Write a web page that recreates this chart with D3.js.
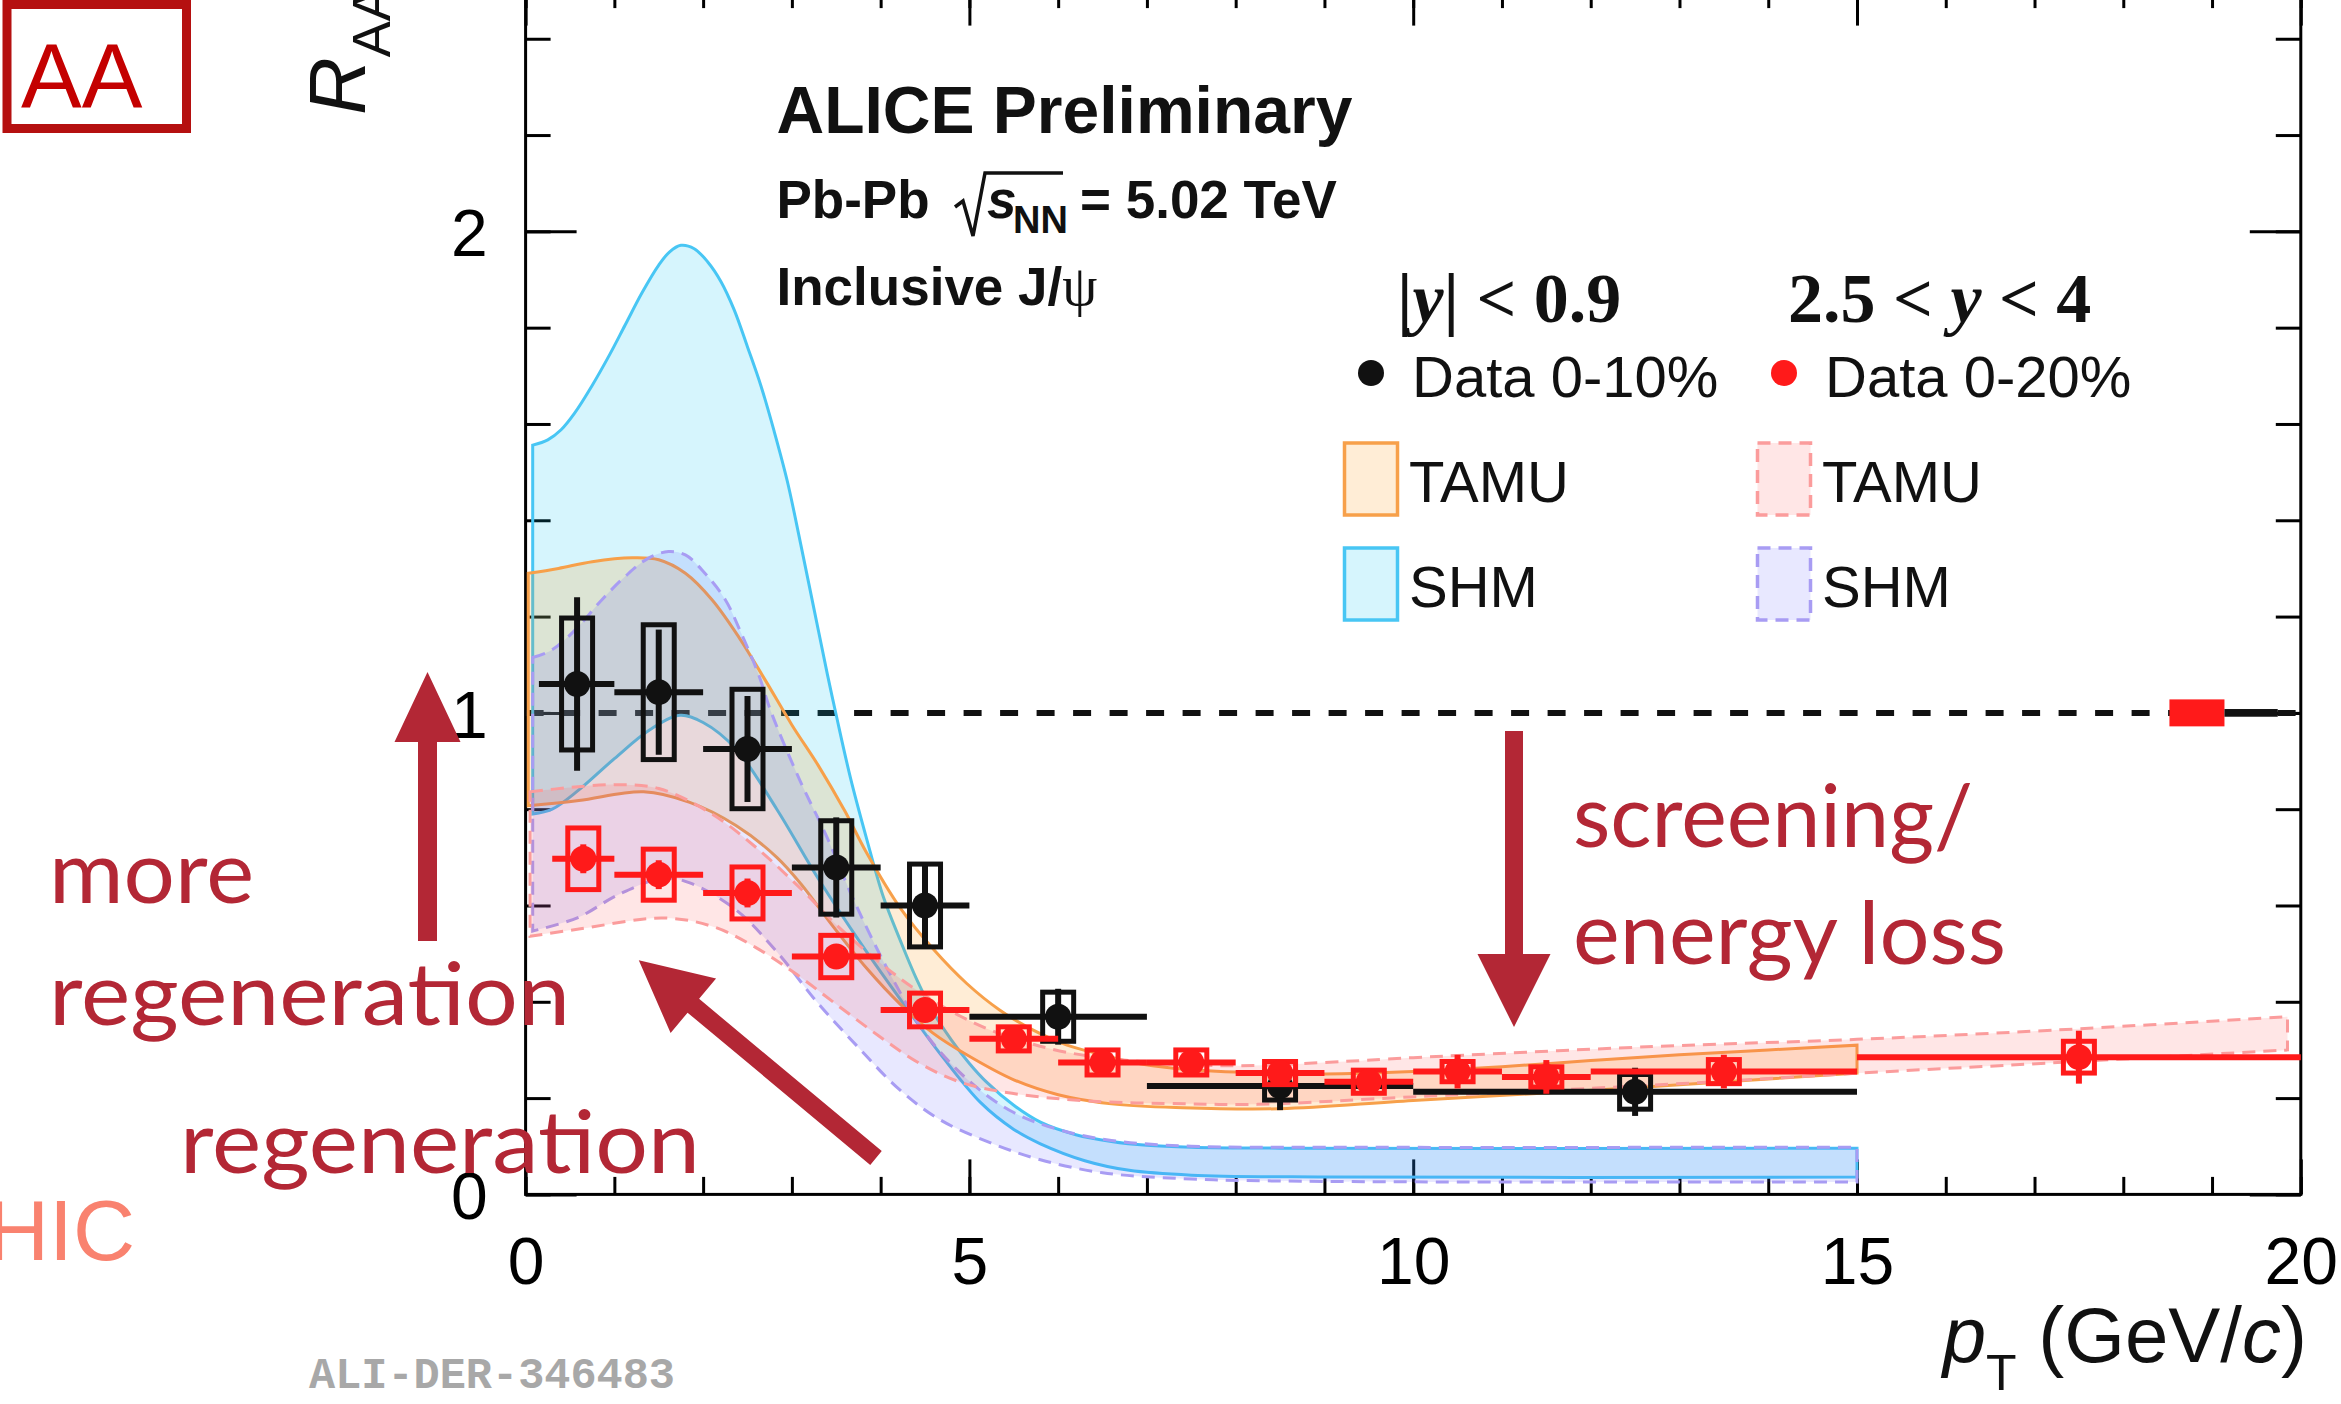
<!DOCTYPE html>
<html>
<head>
<meta charset="utf-8">
<script src="https://cdn.jsdelivr.net/npm/d3@7"></script>
<style>
  html, body { margin: 0; padding: 0; background: #fff; }
  svg { display: block; }
</style>
</head>
<body>
<svg id="chart" width="2341" height="1404"></svg>
<script>
// ---- axis ticks
const xMajor = [0, 5, 10, 15, 20]
const xMinor = d3.range(0, 21)
const yMajor = [0, 1, 2]
const yMinor = d3.range(0, 13).map(i => i * 0.2)

// ---- data |y| < 0.9, 0-10%
const midPt = [0.58, 1.5, 2.5, 3.5, 4.5, 6.0, 8.5, 12.5]
const midLo = [0.15, 1, 2, 3, 4, 5, 7, 10]
const midHi = [1, 2, 3, 4, 5, 7, 10, 15]
const midVal = [1.06, 1.043, 0.925, 0.679, 0.60, 0.369, 0.225, 0.213]
const midStat = [0.18, 0.13, 0.11, 0.104, 0.09, 0.058, 0.05, 0.05]
const midSyst = [0.137, 0.14, 0.124, 0.097, 0.086, 0.051, 0.029, 0.036]

// ---- data 2.5 < y < 4, 0-20%
const fwdPt = [0.65, 1.5, 2.5, 3.5, 4.5, 5.5, 6.5, 7.5, 8.5, 9.5, 10.5, 11.5, 13.5, 17.5]
const fwdLo = [0.3, 1, 2, 3, 4, 5, 6, 7, 8, 9, 10, 11, 12, 15]
const fwdHi = [1, 2, 3, 4, 5, 6, 7, 8, 9, 10, 11, 12, 15, 20]
const fwdVal = [0.697, 0.664, 0.626, 0.494, 0.383, 0.323, 0.274, 0.274, 0.252, 0.234, 0.255, 0.244, 0.255, 0.285]
const fwdStat = [0.03, 0.03, 0.03, 0.025, 0.02, 0.02, 0.03, 0.03, 0.028, 0.025, 0.035, 0.035, 0.035, 0.055]
const fwdSyst = [0.064, 0.053, 0.054, 0.044, 0.035, 0.025, 0.026, 0.026, 0.024, 0.024, 0.021, 0.021, 0.025, 0.033]

// ---- global (normalisation) uncertainties drawn at R_AA = 1
const globLo = [18.52, 19.14]
const globHi = [19.14, 19.74]
const globErr = [0.028, 0.008]

// ---- models [pT, R_AA]
const shmMidUp = [[0.08,1.556],[0.25,1.567],[0.4,1.588],[0.55,1.622],[0.75,1.68],[0.95,1.745],[1.12,1.805],
  [1.31,1.872],[1.5,1.93],[1.62,1.957],[1.75,1.971],[1.9,1.964],[2.05,1.937],[2.2,1.896],[2.35,1.837],[2.5,1.76],
  [2.65,1.68],[2.8,1.585],[2.95,1.48],[3.1,1.35],[3.25,1.215],[3.4,1.08],[3.5,0.995],[3.66,0.865],[3.84,0.74],
  [4.03,0.618],[4.22,0.528],[4.41,0.445],[4.6,0.376],[4.8,0.32],[5.0,0.272],[5.2,0.232],[5.5,0.185],[5.8,0.15],
  [6.2,0.124],[6.6,0.11],[7.0,0.102],[7.5,0.098],[8.5,0.096],[15,0.096]]
const shmMidLo = [[0.08,0.79],[0.3,0.80],[0.6,0.84],[1.0,0.905],[1.4,0.965],[1.74,0.995],[2.0,0.98],[2.37,0.925],
  [2.83,0.80],[3.3,0.655],[3.8,0.515],[4.3,0.385],[4.7,0.285],[5.13,0.19],[5.5,0.135],[5.8,0.105],[6.3,0.07],
  [6.8,0.05],[7.5,0.04],[9,0.036],[15,0.036]]
const tamuMidUp = [[0.03,1.29],[0.37,1.30],[0.75,1.314],[1.2,1.322],[1.5,1.318],[1.8,1.29],[2.1,1.235],[2.4,1.158],
  [2.7,1.068],[3.0,0.975],[3.3,0.89],[3.6,0.795],[3.84,0.71],[4.22,0.595],[4.6,0.508],[4.97,0.438],[5.34,0.383],
  [5.72,0.341],[6.1,0.31],[6.5,0.29],[6.85,0.274],[7.3,0.262],[8,0.254],[9,0.25],[10,0.255],[11,0.265],[12,0.278],
  [13,0.29],[14,0.3],[15,0.31]]
const tamuMidLo = [[0.03,0.807],[0.6,0.818],[1.33,0.836],[1.85,0.814],[2.37,0.766],[2.83,0.70],[3.1,0.645],[3.47,0.555],
  [3.84,0.47],[4.22,0.395],[4.59,0.335],[4.97,0.29],[5.5,0.238],[6.0,0.207],[6.6,0.188],[7.4,0.18],[8.5,0.178],
  [10,0.195],[12.7,0.224],[15,0.252]]
const tamuFwdUp = [[0.05,0.836],[0.5,0.845],[1.0,0.851],[1.5,0.843],[2.1,0.79],[2.6,0.72],[3.1,0.635],[3.5,0.56],
  [4.0,0.48],[4.4,0.425],[4.9,0.37],[5.4,0.33],[6.1,0.295],[7,0.275],[8,0.267],[9,0.274],[10,0.284],[12.7,0.307],
  [15,0.322],[17.2,0.341],[19.85,0.369]]
const tamuFwdLo = [[0.05,0.536],[0.6,0.551],[1.56,0.574],[2.13,0.555],[2.6,0.512],[3.06,0.456],[3.52,0.392],[3.98,0.329],
  [4.43,0.273],[4.9,0.233],[5.48,0.21],[6.34,0.194],[7.48,0.188],[8.25,0.187],[10.04,0.203],[12.71,0.227],
  [15.04,0.252],[17.18,0.273],[19.85,0.30]]
const shmFwdUp = [[0.08,1.115],[0.29,1.13],[0.557,1.172],[0.86,1.235],[1.12,1.283],[1.38,1.321],[1.61,1.335],[1.8,1.328],
  [2.02,1.29],[2.25,1.235],[2.43,1.165],[2.62,1.082],[2.77,1.0],[3.09,0.86],[3.4,0.74],[3.7,0.61],[4.1,0.46],
  [4.5,0.335],[5.0,0.235],[5.5,0.17],[6.0,0.135],[6.6,0.112],[7.5,0.1],[9,0.098],[15,0.098]]
const shmFwdLo = [[0.08,0.547],[0.59,0.575],[1.05,0.623],[1.56,0.657],[1.85,0.647],[2.37,0.591],[2.83,0.504],[3.28,0.40],
  [3.75,0.305],[4.21,0.218],[4.67,0.155],[5.24,0.107],[5.8,0.072],[6.5,0.045],[7.5,0.032],[9,0.027],[15,0.026]]

const sans = "'Liberation Sans', Arial, Helvetica, sans-serif"
const serif = "'Liberation Serif', 'Times New Roman', serif"
const annoColor = '#b32735'

const svg = d3.select('#chart')
svg.append('rect').attr('width', 2341).attr('height', 1404).attr('fill', '#fff')

const x = d3.scaleLinear().domain([0, 20]).range([525.6, 2300.8])
const y = d3.scaleLinear().domain([0, 2.5]).range([1194.4, -9.4])
const [x0, x1] = x.range()
const [yb, yt] = y.range()

// ---- frame and ticks
const frame = svg.append('g')

function addAxis (axis, tx, ty) {
  const g = frame.append('g').attr('transform', `translate(${tx},${ty})`).call(axis)
  g.select('.domain').remove()
  g.selectAll('.tick line').attr('stroke', '#000').attr('stroke-width', 3)
  return g
}

addAxis(d3.axisBottom(x).tickValues(xMinor).tickSize(-17.5).tickFormat(''), 0, yb)
addAxis(d3.axisTop(x).tickValues(xMinor).tickSize(-17.5).tickFormat(''), 0, yt)
addAxis(d3.axisTop(x).tickValues(xMajor).tickSize(-35).tickFormat(''), 0, yt)
const bottom = addAxis(d3.axisBottom(x).tickValues(xMajor).tickSize(-35).tickFormat(d3.format('d')), 0, yb)
bottom.selectAll('.tick text')
  .attr('y', 90).attr('dy', null)
  .style('font-family', sans).style('font-size', '66px').attr('fill', '#000')

addAxis(d3.axisLeft(y).tickValues(yMinor).tickSize(-25).tickFormat(''), x0, 0)
addAxis(d3.axisRight(y).tickValues(yMinor).tickSize(-25).tickFormat(''), x1, 0)
addAxis(d3.axisRight(y).tickValues(yMajor).tickSize(-51).tickFormat(''), x1, 0)
const left = addAxis(d3.axisLeft(y).tickValues(yMajor).tickSize(-51).tickPadding(38).tickFormat(d3.format('d')), x0, 0)
left.selectAll('.tick text')
  .attr('dy', '0.37em')
  .style('font-family', sans).style('font-size', '66px').attr('fill', '#000')

frame.append('rect')
  .attr('x', x0).attr('y', yt).attr('width', x1 - x0).attr('height', yb - yt)
  .attr('fill', 'none').attr('stroke', '#000').attr('stroke-width', 3)

// ---- unity line
svg.append('line')
  .attr('x1', x(0)).attr('x2', x(20)).attr('y1', y(1)).attr('y2', y(1))
  .attr('stroke', '#111').attr('stroke-width', 6).attr('stroke-dasharray', '18,18.5')

// ---- model bands
const models = [
  { up: shmMidUp, lo: shmMidLo, fill: 'rgba(0,190,240,0.16)', stroke: '#48c6f4', dash: null },
  { up: tamuMidUp, lo: tamuMidLo, fill: 'rgba(255,140,0,0.16)', stroke: '#f7a04a', dash: null },
  { up: shmFwdUp, lo: shmFwdLo, fill: 'rgba(80,80,255,0.13)', stroke: '#a89cf3', dash: '13,8' },
  { up: tamuFwdUp, lo: tamuFwdLo, fill: 'rgba(255,80,80,0.14)', stroke: '#fb9c9c', dash: '13,8' }
]

const lineGen = d3.line().x(d => x(d[0])).y(d => y(d[1])).curve(d3.curveCatmullRom.alpha(0.5))
const bandPath = m => lineGen(m.up) + 'L' + lineGen(m.lo.slice().reverse()).slice(1) + 'Z'

svg.append('g').selectAll('path')
  .data(models)
  .enter().append('path')
    .attr('d', bandPath)
    .attr('fill', d => d.fill)
    .attr('stroke', d => d.stroke)
    .attr('stroke-width', 3)
    .attr('stroke-dasharray', d => d.dash)

// ---- global uncertainty boxes
const globColor = ['#ff1a1a', '#111']
svg.append('g').selectAll('rect')
  .data(globLo.map((lo, i) => ({ lo, hi: globHi[i], err: globErr[i], color: globColor[i] })))
  .enter().append('rect')
    .attr('x', d => x(d.lo)).attr('width', d => x(d.hi) - x(d.lo))
    .attr('y', d => y(1 + d.err)).attr('height', d => y(1 - d.err) - y(1 + d.err))
    .attr('fill', d => d.color)

// ---- data points
function series (pt, lo, hi, val, stat, syst) {
  return pt.map((p, i) => ({ pt: p, lo: lo[i], hi: hi[i], val: val[i], stat: stat[i], syst: syst[i] }))
}

function drawPoints (points, color) {
  const g = svg.append('g')
  const pts = g.selectAll('g').data(points).enter().append('g')
  pts.append('line')
    .attr('x1', d => x(d.lo)).attr('x2', d => x(d.hi))
    .attr('y1', d => y(d.val)).attr('y2', d => y(d.val))
    .attr('stroke', color).attr('stroke-width', 6)
  pts.append('line')
    .attr('x1', d => x(d.pt)).attr('x2', d => x(d.pt))
    .attr('y1', d => y(d.val + d.stat)).attr('y2', d => y(d.val - d.stat))
    .attr('stroke', color).attr('stroke-width', 6)
  pts.append('rect')
    .attr('x', d => x(d.pt) - 15.5).attr('width', 31)
    .attr('y', d => y(d.val + d.syst)).attr('height', d => y(d.val - d.syst) - y(d.val + d.syst))
    .attr('fill', 'none').attr('stroke', color).attr('stroke-width', 5)
  pts.append('circle')
    .attr('cx', d => x(d.pt)).attr('cy', d => y(d.val)).attr('r', 13)
    .attr('fill', color)
}

drawPoints(series(midPt, midLo, midHi, midVal, midStat, midSyst), '#111')
drawPoints(series(fwdPt, fwdLo, fwdHi, fwdVal, fwdStat, fwdSyst), '#ff1a1a')

// ---- texts inside the frame
const txt = svg.append('g').style('font-family', sans).attr('fill', '#111')
txt.append('text').attr('x', 776.5).attr('y', 133)
  .style('font-size', '66px').style('font-weight', 'bold').text('ALICE Preliminary')

const pb = txt.append('text').attr('y', 218).style('font-size', '53px').style('font-weight', 'bold')
pb.append('tspan').attr('x', 776.5).text('Pb-Pb')
pb.append('tspan').attr('x', 987).style('font-style', 'italic').text('s')
pb.append('tspan').attr('x', 1013).attr('y', 233).style('font-size', '38px').text('NN')
pb.append('tspan').attr('x', 1080).attr('y', 218).text('= 5.02 TeV')
txt.append('path')
  .attr('d', 'M955,207 L963,201 L973,236 L985,173 L1063,173')
  .attr('fill', 'none').attr('stroke', '#111').attr('stroke-width', 3.5)

const inc = txt.append('text').attr('x', 776.5).attr('y', 305).style('font-size', '53px').style('font-weight', 'bold')
inc.append('tspan').text('Inclusive J/')
inc.append('tspan').style('font-family', serif).style('font-weight', 'normal').style('font-size', '56px').text('ψ')

// ---- legend
const leg = svg.append('g').style('font-family', sans).attr('fill', '#111')
const head = leg.append('g').style('font-family', serif).style('font-weight', 'bold')
  .style('font-size', '70px').style('white-space', 'pre')
const h1 = head.append('text').attr('x', 1397).attr('y', 322)
h1.append('tspan').text('|')
h1.append('tspan').style('font-style', 'italic').text('y')
h1.append('tspan').text('| < 0.9')
const h2 = head.append('text').attr('x', 1788).attr('y', 322)
h2.append('tspan').text('2.5 <  ')
h2.append('tspan').style('font-style', 'italic').text('y')
h2.append('tspan').text(' < 4')

const legCols = [1343, 1756]
const legData = ['Data 0-10%', 'Data 0-20%']
const legDot = ['#111', '#ff1a1a']
legCols.forEach((cx, i) => {
  leg.append('circle').attr('cx', cx + 28).attr('cy', 373).attr('r', 13).attr('fill', legDot[i])
  leg.append('text').attr('x', cx + 69).attr('y', 397).style('font-size', '58px').text(legData[i])
})
const legBands = [
  { m: models[1], col: 0, row: 0, label: 'TAMU' },
  { m: models[3], col: 1, row: 0, label: 'TAMU' },
  { m: models[0], col: 0, row: 1, label: 'SHM' },
  { m: models[2], col: 1, row: 1, label: 'SHM' }
]
legBands.forEach(d => {
  const bx = legCols[d.col]
  const by = 443 + d.row * 105
  leg.append('rect').attr('x', bx + 1.5).attr('y', by).attr('width', 53).attr('height', 72)
    .attr('fill', d.m.fill).attr('stroke', d.m.stroke).attr('stroke-width', 3.5)
    .attr('stroke-dasharray', d.m.dash)
  leg.append('text').attr('x', bx + 66).attr('y', by + 59).style('font-size', '58px').text(d.label)
})

// ---- axis titles
const ytitle = svg.append('text').attr('transform', 'translate(365,115) rotate(-90)')
  .style('font-family', sans).attr('fill', '#111')
ytitle.append('tspan').style('font-size', '80px').style('font-style', 'italic').text('R')
ytitle.append('tspan').attr('dy', 25).style('font-size', '54px').text('AA')

const xtitle = svg.append('text').attr('x', 2307).attr('y', 1362).attr('text-anchor', 'end')
  .style('font-family', sans).style('font-size', '78px').attr('fill', '#111')
xtitle.append('tspan').style('font-style', 'italic').text('p')
xtitle.append('tspan').attr('dy', 28).style('font-size', '50px').text('T')
xtitle.append('tspan').attr('dy', -28).text(' (GeV/')
xtitle.append('tspan').style('font-style', 'italic').text('c')
xtitle.append('tspan').text(')')

svg.append('text').attr('x', 309).attr('y', 1388)
  .attr('textLength', 366).attr('lengthAdjust', 'spacingAndGlyphs')
  .style('font-family', "'Liberation Mono', 'DejaVu Sans Mono', monospace")
  .style('font-size', '44px').style('font-weight', 'bold').attr('fill', '#a8a8a8')
  .text('ALI-DER-346483')

// ---- annotations
function arrow (tail, tip, shaftW, headW, headL) {
  const dx = tip[0] - tail[0], dy = tip[1] - tail[1]
  const len = Math.hypot(dx, dy)
  const ux = dx / len, uy = dy / len
  const nx = -uy, ny = ux
  const bx = tip[0] - ux * headL, by = tip[1] - uy * headL
  const p = (px, py, s) => [px + nx * s, py + ny * s]
  return [tip, p(bx, by, headW / 2), p(bx, by, shaftW / 2), p(tail[0], tail[1], shaftW / 2),
    p(tail[0], tail[1], -shaftW / 2), p(bx, by, -shaftW / 2), p(bx, by, -headW / 2)]
}
const anno = svg.append('g').attr('fill', annoColor)
anno.selectAll('polygon')
  .data([
    arrow([427.5, 941], [427.5, 672], 19, 66, 70),
    arrow([1514, 731], [1514, 1027], 18, 73, 73),
    arrow([876, 1158], [638.8, 960.3], 18, 71, 71)
  ])
  .enter().append('polygon')
    .attr('points', d => d.map(p => p.join(',')).join(' '))

const annoText = [
  { t: 'more', x: 49, y: 903, w: 205 },
  { t: 'regeneration', x: 49, y: 1025, w: 521 },
  { t: 'regeneration', x: 180, y: 1173, w: 520 },
  { t: 'screening/', x: 1573, y: 847, w: 400 },
  { t: 'energy loss', x: 1573, y: 964, w: 433 }
]
anno.selectAll('text')
  .data(annoText)
  .enter().append('text')
    .attr('x', d => d.x).attr('y', d => d.y)
    .attr('textLength', d => d.w).attr('lengthAdjust', 'spacingAndGlyphs')
    .style('font-family', "Lato, 'Open Sans', sans-serif").style('font-size', '88px')
    .text(d => d.t)

svg.append('text').attr('x', -13).attr('y', 1260)
  .style('font-family', sans).style('font-size', '86px').attr('fill', '#f9826f')
  .text('HIC')

svg.append('rect').attr('x', 7).attr('y', 4.5).attr('width', 179.5).attr('height', 124)
  .attr('fill', 'none').attr('stroke', '#b51010').attr('stroke-width', 9)
svg.append('text').attr('x', 21).attr('y', 107)
  .style('font-family', sans).style('font-size', '91px').attr('fill', '#c40000')
  .text('AA')
</script>
</body>
</html>
